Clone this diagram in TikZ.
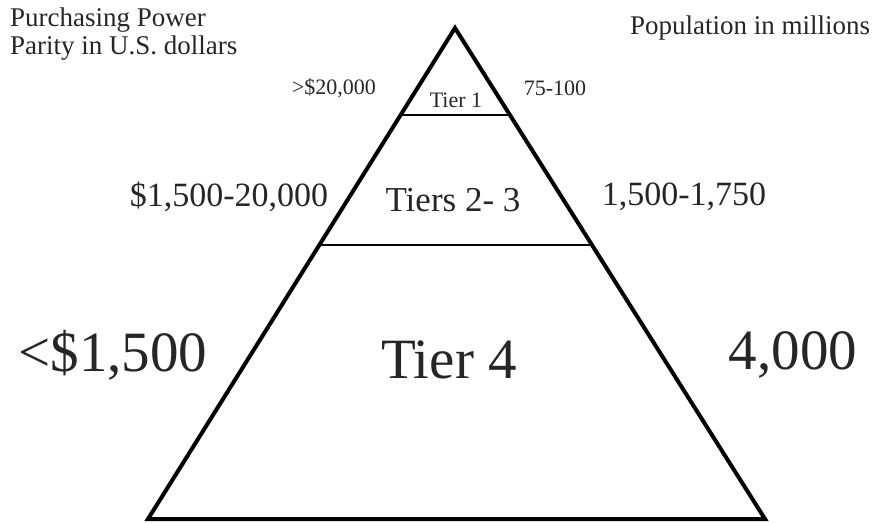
\documentclass[tikz,border=0pt]{standalone}
\usepackage{fontspec}
\setmainfont{Liberation Serif}
\usetikzlibrary{calc}
\begin{document}
\begin{tikzpicture}[x=1pt,y=-1pt,
  lbl/.style={inner sep=0pt, text=black!85},
  side/.style={line width=4pt, line join=miter},
  divider/.style={line width=2pt}]
\useasboundingbox (0,0) rectangle (877,523);
\coordinate (apex) at (455,28);
\coordinate (bl) at (148,519);
\coordinate (br) at (765,519);
\draw[side] (bl) -- (apex) -- (br) -- cycle;
\coordinate (d1l) at ($(apex)!0.177!(bl)$);
\coordinate (d1r) at ($(apex)!0.177!(br)$);
\coordinate (d2l) at ($(apex)!0.442!(bl)$);
\coordinate (d2r) at ($(apex)!0.442!(br)$);
\draw[divider] (d1l) -- (d1r);
\draw[divider] (d2l) -- (d2r);
% header labels
\node[lbl, anchor=west, align=left, font=\fontsize{27}{28}\selectfont] (ppp) at (10,34) {Purchasing Power\\Parity in U.S. dollars};
\node[lbl, font=\fontsize{27}{28}\selectfont] (pop) at (750,28) {Population in millions};
% tier 1
\node[lbl, font=\fontsize{22}{24}\selectfont] (p1) at (334,88) {>\$20,000};
\node[lbl, font=\fontsize{22}{24}\selectfont] (t1) at (456,100) {Tier 1};
\node[lbl, font=\fontsize{22}{24}\selectfont] (n1) at (555,88) {75-100};
% tiers 2-3
\node[lbl, font=\fontsize{34}{36}\selectfont] (p2) at (229,197) {\$1,500-20,000};
\node[lbl, font=\fontsize{35}{37}\selectfont] (t2) at (453,200) {Tiers 2- 3};
\node[lbl, font=\fontsize{34}{36}\selectfont] (n2) at (684,197) {1,500-1,750};
% tier 4
\node[lbl, font=\fontsize{57}{60}\selectfont] (p4) at (113,355) {<\$1,500};
\node[lbl, font=\fontsize{57}{60}\selectfont] (t4) at (449,360) {Tier 4};
\node[lbl, font=\fontsize{57}{60}\selectfont] (n4) at (793,355) {4,000};
\end{tikzpicture}
\end{document}
